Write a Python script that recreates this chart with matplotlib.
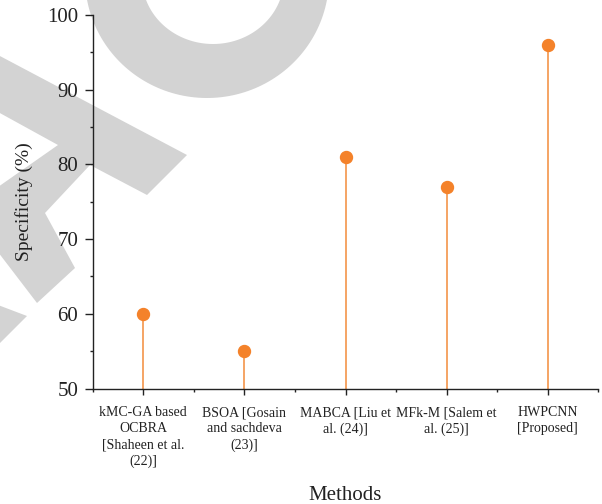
import numpy as np
import matplotlib
matplotlib.use("Agg")
import matplotlib.pyplot as plt
from matplotlib.patches import Polygon, PathPatch
from matplotlib.path import Path
from matplotlib.ticker import MultipleLocator, FixedLocator

plt.rcParams['font.family'] = ['Liberation Serif', 'DejaVu Serif']

# data
methods = [
    "kMC-GA based\nOCBRA\n[Shaheen et al.\n(22)]",
    "BSOA [Gosain\nand sachdeva\n(23)]",
    "MABCA [Liu et\nal. (24)]",
    "MFk-M [Salem et\nal. (25)]",
    "HWPCNN\n[Proposed]",
]
specificity = [60, 55, 81, 77, 96]

orange = '#F4822A'
stem_col = '#F28C3A'
grey = '#D3D3D3'


def ellipse_pts(cx, cy, a, b, reverse=False):
    t = np.linspace(0, 2 * np.pi, 200)
    if reverse:
        t = t[::-1]
    return np.column_stack([cx + a * np.cos(t), cy + b * np.sin(t)])


fig = plt.figure(figsize=(6.02, 5.04), dpi=100)

# background watermark shapes (pixel coords, y down)
bg = fig.add_axes([0, 0, 1, 1])
bg.set_xlim(0, 602)
bg.set_ylim(504, 0)
bg.axis('off')
outer = ellipse_pts(207, -22, 122, 120)
inner = ellipse_pts(213, -22, 71, 66, reverse=True)
verts = np.vstack([outer, outer[:1], inner, inner[:1]])
codes = ([Path.MOVETO] + [Path.LINETO] * (len(outer) - 1) + [Path.CLOSEPOLY]) * 2
bg.add_patch(PathPatch(Path(verts, codes), facecolor=grey, edgecolor='none'))
letter = [(-2, 55), (187, 155), (147, 195), (90, 165), (45, 213), (75, 268),
          (37, 303), (-2, 252), (-2, 187), (58, 145), (-2, 112)]
corner = [(-2, 305), (27, 316), (-2, 345)]
for pts in [letter, corner]:
    bg.add_patch(Polygon(pts, closed=True, facecolor=grey, edgecolor='none'))

# main chart
ax = fig.add_axes([92.7 / 602, 1 - 388.5 / 504, 505.6 / 602, 373.5 / 504])
ax.set_facecolor('none')
x = np.arange(len(methods))
markerline, stemlines, baseline = ax.stem(x, specificity, bottom=50, basefmt=' ')
markerline.set_color(orange)
markerline.set_markersize(8.6)
markerline.set_zorder(3)
stemlines.set_color(stem_col)
stemlines.set_linewidth(1.1)

ax.set_xlim(-0.5, 4.5)
ax.set_ylim(50, 100)
ax.set_xticks(x)
ax.set_xticklabels(methods, fontsize=10, linespacing=1.3, color='#333333')
ax.xaxis.set_minor_locator(FixedLocator(np.arange(-0.5, 4.6, 1)))
ax.yaxis.set_major_locator(MultipleLocator(10))
ax.yaxis.set_minor_locator(MultipleLocator(5))

for s in ['top', 'right']:
    ax.spines[s].set_visible(False)
for s in ['left', 'bottom']:
    ax.spines[s].set_linewidth(1.0)
    ax.spines[s].set_color('#222222')

ax.tick_params(axis='y', which='major', length=5.5, width=1.0, pad=5,
               labelsize=15, colors='#222222')
ax.tick_params(axis='y', which='minor', length=2.4, width=1.0, colors='#222222')
ax.tick_params(axis='x', which='major', length=4.3, width=1.0, pad=8.5,
               colors='#222222')
ax.tick_params(axis='x', which='minor', length=2.4, width=1.0, colors='#222222')

ax.set_xlabel("Methods", fontsize=15, color='#222222')
ax.xaxis.set_label_coords(0.5, -0.262)
ax.set_ylabel("Specificity (%)", fontsize=14, labelpad=10, color='#222222')

fig.savefig("out.png", dpi=100, facecolor='white')
